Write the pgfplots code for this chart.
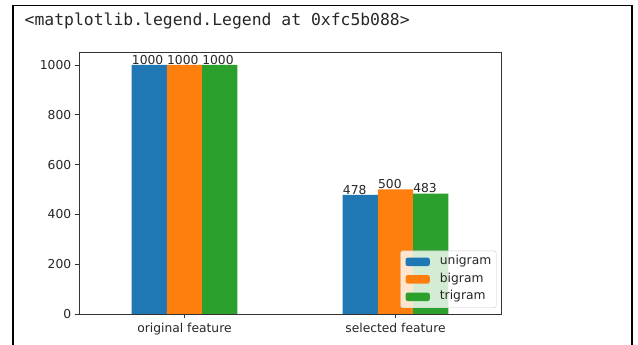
\documentclass[border=0pt]{standalone}
\usepackage{pgfplots}
\pgfplotsset{compat=1.18}
\usepackage{fontspec}
\setmainfont{DejaVu Sans}
\newfontfamily\monofont{DejaVu Sans Mono}
\definecolor{tabblue}{HTML}{1F77B4}
\definecolor{taborange}{HTML}{FF7F0E}
\definecolor{tabgreen}{HTML}{2CA02C}
\newcommand\mpl{\fontsize{12.3}{14}\selectfont}
\begin{document}
\begin{tikzpicture}
\path[use as bounding box] (0,0) rectangle (638pt,345pt);
\draw[line width=1.6pt] (12.7pt,-5pt) -- (12.7pt,339.5pt) -- (632pt,339.5pt) -- (632pt,-5pt);
\node[anchor=base west, inner sep=0pt, font=\monofont\fontsize{16.4}{18}\selectfont, text=black!85] at (24.5pt,319pt) {<matplotlib.legend.Legend at 0xfc5b088>};
\begin{axis}[
  at={(79pt,31pt)}, anchor=south west,
  scale only axis, width=422pt, height=261.5pt,
  ybar, bar width=0.16667,
  xmin=-0.5, xmax=1.5, ymin=0, ymax=1050,
  xtick={0,1}, xticklabels={original feature, selected feature},
  ytick={0,200,400,600,800,1000},
  tick align=outside, tick pos=left, major tick length=4.3pt,
  axis line style={draw=black!80, line width=0.8pt},
  every tick/.style={black!80, line width=0.8pt},
  tick label style={font=\mpl, text=black!85},
  xticklabel style={yshift=-1.5pt},
  /pgf/number format/assume math mode=true,
  /pgf/number format/1000 sep={},
  nodes near coords,
  every node near coord/.append style={anchor=base west, xshift=-17.58pt, yshift=0.8pt, inner sep=0pt, font=\mpl, text=black!85},
  legend cell align=left,
  legend image code/.code={\fill[#1, fill opacity=1, draw=none] (0pt,-4.3pt) rectangle (24.4pt,4.3pt);},
  legend style={at={(1,0)}, anchor=south east, xshift=-4.5pt, yshift=6pt,
    fill=white, fill opacity=0.8, draw opacity=1, text opacity=1,
    draw=black!20, rounded corners=2.4pt, inner xsep=5pt, inner ysep=5.2pt,
    row sep=6pt, font=\mpl, text=black!85,
    nodes={inner sep=0pt, text height=8.9pt, text depth=2.6pt},
    /tikz/every odd column/.append style={column sep=10pt}},
]
\addplot[fill=tabblue, draw=none, bar shift=0pt] coordinates {(-0.16667,1000) (0.83333,478)};
\addplot[fill=taborange, draw=none, bar shift=0pt] coordinates {(0,1000) (1,500)};
\addplot[fill=tabgreen, draw=none, bar shift=0pt] coordinates {(0.16667,1000) (1.16667,483)};
\legend{unigram\hspace{3.5pt}, bigram, trigram}
\end{axis}
\end{tikzpicture}
\end{document}
